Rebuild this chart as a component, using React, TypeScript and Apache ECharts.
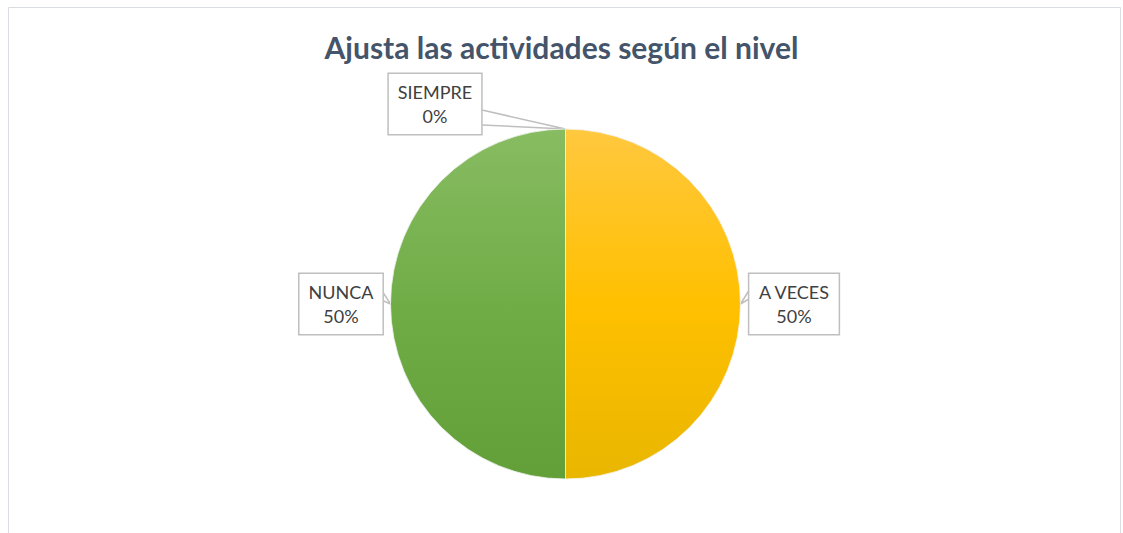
import React, { useEffect, useRef } from "react";
import * as echarts from "echarts";

const titleText = "Ajusta las actividades según el nivel";
const categories = ["SIEMPRE", "A VECES", "NUNCA"];
const values = [0, 50, 50];

// label placement offsets relative to the arc anchor (label center), and wedge points
const labelOffsets = [
  [-130.5, -25],
  [53.5, 0],
  [-49.5, 0],
];
const wedgeOffsets = [
  [[-83.5, -19], [0, 0], [-83.5, -4]],
  [[10, -16], [0, 0], [10, -6]],
  [[-9, -14], [0, 0], [-9, -4]],
];

const grad = (top: string, mid: string, bottom: string) =>
  new echarts.graphic.LinearGradient(0, 0, 0, 1, [
    { offset: 0, color: top },
    { offset: 0.5, color: mid },
    { offset: 1, color: bottom },
  ]);

export default function App() {
  const ref = useRef<HTMLDivElement>(null);
  useEffect(() => {
    document.body.style.margin = "0";
    const chart = echarts.init(ref.current!, null, { renderer: "svg" });
    const colors = [
      grad("#88BC62", "#70AD47", "#629F39"),
      grad("#FFC83F", "#FFC000", "#E9B600"),
      grad("#88BC62", "#70AD47", "#629F39"),
    ];
    chart.setOption({
      animation: false,
      backgroundColor: "#ffffff",
      graphic: [
        {
          type: "rect",
          z: -10,
          shape: { x: 8.5, y: 7.5, width: 1112, height: 560 },
          style: { fill: "#ffffff", stroke: "#D9DDE2", lineWidth: 1 },
          silent: true,
        },
      ],
      title: {
        text: titleText,
        left: "center",
        top: 27,
        textStyle: {
          fontFamily: "Lato",
          fontWeight: "bold",
          fontSize: 30,
          color: "#44546A",
        },
      },
      series: [
        {
          type: "pie",
          center: [565.5, 304],
          radius: 175,
          startAngle: 90,
          clockwise: true,
          avoidLabelOverlap: false,
          itemStyle: { borderColor: "#F4F4F4", borderWidth: 0.8 },
          label: {
            show: true,
            position: "outside",
            formatter: (p: any) => `${p.name}\n${Math.round(p.percent)}%`,
            fontFamily: "Lato",
            fontSize: 18,
            lineHeight: 24,
            color: "#404040",
            align: "center",
            backgroundColor: "#ffffff",
            borderColor: "#BFBFBF",
            borderWidth: 1.5,
            padding: [6, 9, 6, 9],
          },
          labelLine: {
            show: true,
            length: 10,
            length2: 10,
            lineStyle: { color: "#BFBFBF", width: 1.5 },
          },
          labelLayout: (params: any) => {
            const i = params.dataIndex;
            let ax: number, ay: number;
            if (params.labelLinePoints && params.labelLinePoints[0]) {
              ax = params.labelLinePoints[0][0];
              ay = params.labelLinePoints[0][1];
            } else {
              const r = params.rect;
              if (i === 1) { ax = r.x + r.width; ay = r.y + r.height / 2; }
              else if (i === 2) { ax = r.x; ay = r.y + r.height / 2; }
              else { ax = r.x; ay = r.y; }
            }
            return {
              x: ax + labelOffsets[i][0],
              y: ay + labelOffsets[i][1],
              align: "center",
              verticalAlign: "middle",
              labelLinePoints: wedgeOffsets[i].map((p) => [ax + p[0], ay + p[1]]),
            };
          },
          data: categories.map((name, i) => ({
            name,
            value: values[i],
            itemStyle: { color: colors[i] },
          })),
        },
      ],
    });
    return () => chart.dispose();
  }, []);
  return <div ref={ref} style={{ width: 1123, height: 533 }} />;
}
